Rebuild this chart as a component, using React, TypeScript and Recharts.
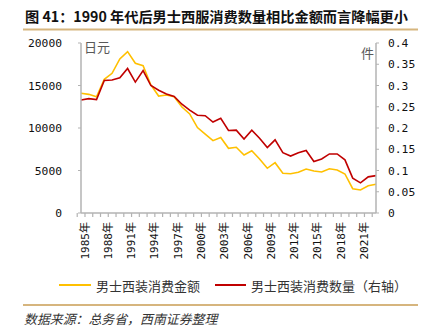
import React from "react";
import { LineChart, Line, XAxis, YAxis } from "recharts";

const years = [
  "1985","1986","1987","1988","1989","1990","1991","1992","1993","1994",
  "1995","1996","1997","1998","1999","2000","2001","2002","2003","2004",
  "2005","2006","2007","2008","2009","2010","2011","2012","2013","2014",
  "2015","2016","2017","2018","2019","2020","2021","2022","2023",
];

const amount = [
  14080, 13960, 13680, 15730, 16440, 18120, 18980, 17610, 17330, 15060,
  13760, 13880, 13680, 12470, 11650, 10050, 9280, 8510, 8880, 7610,
  7730, 6820, 7330, 6350, 5260, 5920, 4670, 4620, 4790, 5180,
  4940, 4820, 5210, 5060, 4590, 2860, 2710, 3210, 3380,
];

const quantity = [
  0.266, 0.269, 0.267, 0.312, 0.313, 0.318, 0.34, 0.308, 0.335, 0.3,
  0.289, 0.28, 0.274, 0.256, 0.242, 0.23, 0.229, 0.214, 0.223, 0.194,
  0.195, 0.174, 0.195, 0.176, 0.154, 0.172, 0.142, 0.134, 0.142, 0.147,
  0.121, 0.127, 0.139, 0.139, 0.125, 0.082, 0.071, 0.085, 0.088,
];

const leftTicks = [0, 5000, 10000, 15000, 20000];
const rightTicks = [0, 0.05, 0.1, 0.15, 0.2, 0.25, 0.3, 0.35, 0.4];

const title = "图 41：1990 年代后男士西服消费数量相比金额而言降幅更小";
const legendAmount = "男士西装消费金额";
const legendQty = "男士西装消费数量（右轴）";
const source = "数据来源：总务省，西南证券整理";
const leftUnit = "日元";
const rightUnit = "件";

const data = years.map((y, i) => ({ year: y, amount: amount[i], qty: quantity[i] }));

const AXIS = "#b3b3b3";
const MONO = "'DejaVu Sans Mono', 'Noto Sans CJK SC', monospace";
const CJK = "'Noto Sans CJK SC', sans-serif";

const BAND = 295 / years.length;

const XTick = (props: any) => {
  const { x, payload, index } = props;
  const show = index % 3 === 0;
  return (
    <g>
      <line x1={x - BAND / 2} x2={x - BAND / 2} y1={213} y2={217} stroke={AXIS} strokeWidth={1.2} />
      {show && (
        <text
          transform={`translate(${x + 4},${222}) rotate(-90)`}
          textAnchor="end"
          dominantBaseline="central"
          fontSize={11}
          fontFamily={MONO}
          fill="#111"
        >
          {`${payload.value}年`}
        </text>
      )}
    </g>
  );
};

const fmtRight = (v: number) => {
  if (v === 0) return "0";
  return String(Number(v.toFixed(2)));
};

export default function App() {
  return (
    <div style={{ position: "absolute", left: 0, top: 0, width: 429, height: 331, background: "#fff" }}>
      <div style={{ position: "absolute", left: 0, top: 0 }}>
        <LineChart
          width={429}
          height={331}
          data={data}
          margin={{ top: 43, right: 13, left: 21, bottom: 60 }}
        >
          <XAxis
            dataKey="year"
            yAxisId="left"
            interval={0}
            tick={<XTick />}
            tickLine={false}
            axisLine={{ stroke: AXIS, strokeWidth: 1.5 }}
            height={58}
          />
          <YAxis
            yAxisId="left"
            orientation="left"
            domain={[0, 20000]}
            ticks={leftTicks}
            width={60}
            tickSize={3}
            tickMargin={16}
            tickLine={{ stroke: AXIS }}
            axisLine={{ stroke: AXIS, strokeWidth: 1.5 }}
            tick={{ fontSize: 11.3, fontFamily: MONO, fill: "#111" }}
            interval={0}
          />
          <YAxis
            yAxisId="right"
            orientation="right"
            domain={[0, 0.4]}
            ticks={rightTicks}
            width={40}
            tickSize={3}
            tickMargin={9}
            tickLine={{ stroke: AXIS }}
            axisLine={{ stroke: AXIS, strokeWidth: 1.5 }}
            tick={{ fontSize: 11.3, fontFamily: MONO, fill: "#111", textAnchor: "start" }}
            tickFormatter={fmtRight}
            interval={0}
          />
          <Line
            yAxisId="left"
            type="linear"
            dataKey="amount"
            stroke="#FFC000"
            strokeWidth={1.6}
            dot={false}
            isAnimationActive={false}
          />
          <Line
            yAxisId="right"
            type="linear"
            dataKey="qty"
            stroke="#C00000"
            strokeWidth={1.6}
            dot={false}
            isAnimationActive={false}
          />
        </LineChart>
      </div>
      <svg
        width={429}
        height={331}
        style={{ position: "absolute", left: 0, top: 0, pointerEvents: "none" }}
      >
        <text x={25} y={16} dominantBaseline="central" fontSize={14.2} fontWeight="bold" fontFamily={CJK} fill="#111">
          {title}
        </text>
        <line x1={23} x2={418} y1={29.5} y2={29.5} stroke="#D6B57E" strokeWidth={2} />
        <text x={84} y={46} dominantBaseline="central" fontSize={13} fontFamily={CJK} fill="#595959">
          {leftUnit}
        </text>
        <text x={361} y={52} dominantBaseline="central" fontSize={13} fontFamily={CJK} fill="#595959">
          {rightUnit}
        </text>
        <line x1={59} x2={91} y1={285} y2={285} stroke="#FFC000" strokeWidth={2} />
        <text x={96} y={285} dominantBaseline="central" fontSize={13} fontFamily={CJK} fill="#333">
          {legendAmount}
        </text>
        <line x1={215} x2={246} y1={285} y2={285} stroke="#C00000" strokeWidth={2} />
        <text x={251} y={285} dominantBaseline="central" fontSize={13} fontFamily={CJK} fill="#333">
          {legendQty}
        </text>
        <line x1={23} x2={418} y1={305} y2={305} stroke="#D6B57E" strokeWidth={2} />
        <text x={24} y={318} dominantBaseline="central" fontSize={12.9} fontStyle="italic" fontFamily={CJK} fill="#333">
          {source}
        </text>
      </svg>
    </div>
  );
}
